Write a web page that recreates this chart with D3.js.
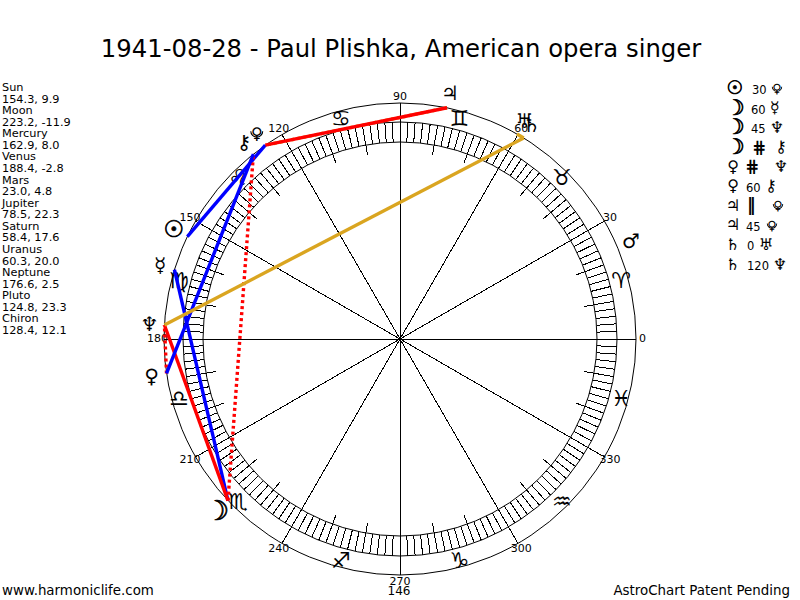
<!DOCTYPE html>
<html>
<head>
<meta charset="utf-8">
<script src="https://cdn.jsdelivr.net/npm/d3@7"></script>
<style>
  html, body { margin: 0; background: #fff; }
  text { font-family: "DejaVu Sans", sans-serif; fill: #000; }
  .big { stroke: #000; stroke-width: 0.7; }
  .crisp { shape-rendering: crispEdges; }
</style>
</head>
<body>
<div id="chart"></div>
<script>
const planetNames = ['Sun', 'Moon', 'Mercury', 'Venus', 'Mars', 'Jupiter', 'Saturn', 'Uranus', 'Neptune', 'Pluto', 'Chiron']
const planetGlyphs = ['\u2609', '\u263D', '\u263F', '\u2640', '\u2642', '\u2643', '\u2644', '\u2645', '\u2646', '\u2640', '\u26B7']
const longitudes = [154.3, 223.2, 162.9, 188.4, 23.0, 78.5, 58.4, 60.3, 176.6, 124.8, 128.4]
const declinations = [9.9, -11.9, 8.0, -2.8, 4.8, 22.3, 17.6, 20.0, 2.5, 23.3, 12.1]

const signGlyphs = ['\u2648', '\u2649', '\u264A', '\u264B', '\u264C', '\u264D', '\u264E', '\u264F', '\u2650', '\u2651', '\u2652', '\u2653']
const degreeLabels = [0, 30, 60, 90, 120, 150, 180, 210, 240, 270, 300, 330]

// aspects, same order as the list on the right
const aspectFrom = ['Sun', 'Moon', 'Moon', 'Moon', 'Venus', 'Venus', 'Jupiter', 'Jupiter', 'Saturn', 'Saturn']
const aspectKind = ['30', '60', '45', 'contra', 'contra', '60', 'parallel', '45', '0', '120']
const aspectTo = ['Pluto', 'Mercury', 'Neptune', 'Chiron', 'Neptune', 'Chiron', 'Pluto', 'Pluto', 'Uranus', 'Neptune']

const width = 800
const height = 600
const cx = 400
const cy = 339
const rOuter = 236
const rBandOut = 217
const rBandIn = 197
const rLongTick = 187

const kindColor = { '0': 'goldenrod', '120': 'goldenrod', 'parallel': 'goldenrod', '30': '#0000ff', '60': '#0000ff', '45': '#ff0000', 'contra': '#ff0000' }
const kindGlyph = { 'contra': '\u22D5', 'parallel': '\u2016' }

const angle = d3.scaleLinear().domain([0, 360]).range([Math.PI / 2, Math.PI / 2 - 2 * Math.PI])
const polar = (lon, r) => d3.pointRadial(angle(lon), r)
const glyphOf = d3.scaleOrdinal().domain(planetNames).range(planetGlyphs)
const lonOf = d3.scaleOrdinal().domain(planetNames).range(longitudes)

// sun and moon glyphs are small in DejaVu, the reference has them heavy
function drawGlyph(sel, name, scale) {
  const g = sel.append('g')
  const big = name === 'Sun' || name === 'Moon'
  const size = (name === 'Sun' ? 23 : name === 'Moon' ? 27 : name === 'Pluto' ? 16 : 20) * scale
  g.append('text')
    .attr('class', big ? 'big' : null)
    .attr('text-anchor', 'middle')
    .attr('y', (name === 'Moon' ? 9 : name === 'Pluto' ? 6 : 7) * scale)
    .attr('font-size', size)
    .text(glyphOf(name) + '\uFE0E')
  // pluto: the cup under the head of the cross, no such character in the fonts
  if (name === 'Pluto') {
    g.append('path')
      .attr('d', d3.arc()({ innerRadius: 5.4 * scale, outerRadius: 6.5 * scale, startAngle: Math.PI / 2, endAngle: 3 * Math.PI / 2 }))
      .attr('transform', `translate(0,${-1.7 * scale})`)
      .attr('fill', '#000')
  }
  return g
}

const svg = d3.select('#chart').append('svg')
  .attr('width', width)
  .attr('height', height)
  .style('display', 'block')

svg.append('text')
  .attr('x', 401)
  .attr('y', 57)
  .attr('text-anchor', 'middle')
  .attr('font-size', 24.3)
  .text('1941-08-28 - Paul Plishka, American opera singer')

const wheel = svg.append('g').attr('transform', `translate(${cx},${cy})`)

// rings
wheel.selectAll('circle')
  .data([rOuter, rBandOut, rBandIn])
  .enter()
  .append('circle')
  .attr('r', d => d)
  .attr('fill', 'none')
  .attr('stroke', '#000')

// band ticks, every 2 deg, the tens run further in
wheel.selectAll('.tick')
  .data(d3.range(0, 360, 2))
  .enter()
  .append('line')
  .attr('class', 'tick crisp')
  .attr('x1', d => polar(d, d % 10 === 0 ? rLongTick : rBandIn)[0])
  .attr('y1', d => polar(d, d % 10 === 0 ? rLongTick : rBandIn)[1])
  .attr('x2', d => polar(d, rBandOut)[0])
  .attr('y2', d => polar(d, rBandOut)[1])
  .attr('stroke', '#000')

// spokes
wheel.selectAll('.spoke')
  .data(degreeLabels)
  .enter()
  .append('line')
  .attr('class', 'spoke crisp')
  .attr('x2', d => polar(d, rOuter)[0])
  .attr('y2', d => polar(d, rOuter)[1])
  .attr('stroke', '#000')

wheel.selectAll('.deg')
  .data(degreeLabels)
  .enter()
  .append('text')
  .attr('class', 'deg')
  .attr('x', d => polar(d, rOuter + 6.5)[0])
  .attr('y', d => polar(d, rOuter + 6.5)[1] + 3)
  .attr('text-anchor', 'middle')
  .attr('font-size', 11)
  .text(d => d)

wheel.selectAll('.sign')
  .data(signGlyphs)
  .enter()
  .append('text')
  .attr('class', 'sign')
  .attr('x', (d, i) => polar(i * 30 + 15, 229)[0])
  .attr('y', (d, i) => polar(i * 30 + 15, 229)[1] + 8)
  .attr('text-anchor', 'middle')
  .attr('font-size', 22)
  .text(d => d + '\uFE0E')

// aspect lines
wheel.selectAll('.aspect')
  .data(aspectKind)
  .enter()
  .append('line')
  .attr('class', 'aspect')
  .attr('x1', (d, i) => polar(lonOf(aspectFrom[i]), rOuter)[0])
  .attr('y1', (d, i) => polar(lonOf(aspectFrom[i]), rOuter)[1])
  .attr('x2', (d, i) => polar(lonOf(aspectTo[i]), rOuter)[0])
  .attr('y2', (d, i) => polar(lonOf(aspectTo[i]), rOuter)[1])
  .attr('stroke', d => kindColor[d])
  .attr('stroke-width', 3.4)
  .attr('stroke-dasharray', d => kindGlyph[d] ? '3 3' : null)

planetNames.forEach((name, i) => {
  const p = polar(longitudes[i], 251)
  drawGlyph(wheel, name, 1).attr('transform', `translate(${p[0]},${p[1]})`)
})

// left list
const leftRows = planetNames.flatMap((name, i) => [name, longitudes[i].toFixed(1) + ', ' + declinations[i].toFixed(1)])
svg.append('g').selectAll('text')
  .data(leftRows)
  .enter()
  .append('text')
  .attr('x', 2)
  .attr('y', (d, i) => 91 + i * 11.57)
  .attr('font-size', 11.3)
  .text(d => d)

// right list
const fromX = [735, 735, 735, 735, 733, 733, 733, 733, 733, 733]
const kindX = [752, 751, 751, 752, 745, 746, 747, 746, 747, 747]
const toX = [777, 775, 777, 781, 781, 771, 778, 772, 766, 780]
const rowY = d3.scalePoint().domain(d3.range(aspectKind.length)).range([88, 264])

aspectKind.forEach((kind, i) => {
  const y = rowY(i)
  drawGlyph(svg, aspectFrom[i], 0.8).attr('transform', `translate(${fromX[i]},${y})`)
  svg.append('text')
    .attr('x', kindX[i])
    .attr('y', y + 6)
    .attr('font-size', kindGlyph[kind] ? 17 : 11.5)
    .attr('font-weight', kindGlyph[kind] ? 'bold' : null)
    .text(kindGlyph[kind] || kind)
  drawGlyph(svg, aspectTo[i], 0.8).attr('transform', `translate(${toX[i]},${y})`)
})

// footer
svg.append('text').attr('x', 2).attr('y', 595).attr('font-size', 13.4).text('www.harmoniclife.com')
svg.append('text').attr('x', 399).attr('y', 595).attr('text-anchor', 'middle').attr('font-size', 12).text('146')
svg.append('text').attr('x', 790).attr('y', 595).attr('text-anchor', 'end').attr('font-size', 13.4).text('AstroChart Patent Pending')
</script>
</body>
</html>
